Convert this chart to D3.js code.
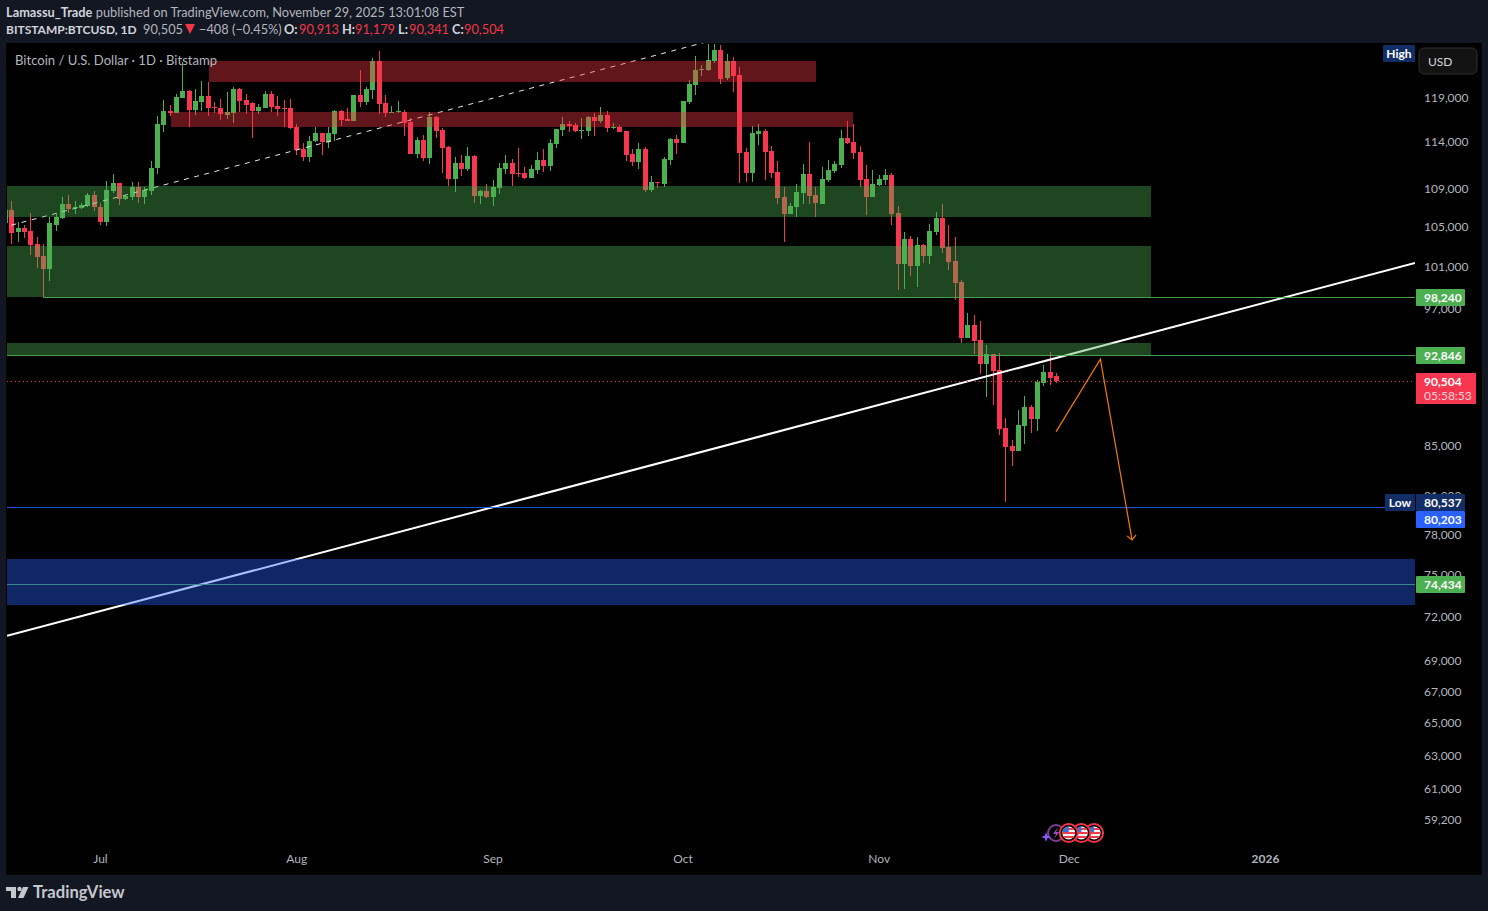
<!DOCTYPE html>
<html>
<head>
<meta charset="utf-8">
<script src="https://cdnjs.cloudflare.com/ajax/libs/d3/7.8.5/d3.min.js"></script>
<style>
  body { margin: 0; background: #131722; }
  svg { display: block; }
  text { font-family: "Lato", sans-serif; }
  .tick text { font-family: "Lato", sans-serif; }
</style>
</head>
<body>
<div id="chart"></div>
<script>
// daily candles, each row is open, high, low, close
var firstDay = "2025-06-16";
var candlesJun = [
  [105460,106790,105460,106790],[106790,107730,103340,104450],[104550,105560,103540,104950],
  [104950,105260,103940,104550],[104650,106480,102250,103240],[103340,104040,100970,102050],
  [102150,103340,98190,100870],[100870,106070,99710,105460],[105260,106380,104650,106070],
  [105970,108150,105870,107420],[107420,108360,106480,106900],[107000,107730,106380,107110],
  [107000,107520,106900,107320],[107210,108570,107110,108360],[108360,108780,106690,107110]
];
var candlesJul = [
  [107110,107520,105260,105560],[105560,109830,105150,108880],[108780,110580,108570,109620],
  [109620,109620,107320,107940],[107940,108360,107830,108250],[108150,109730,107830,109200],
  [109200,109730,107520,108150],[108150,109200,107420,108880],[108780,111980,108360,111220],
  [111220,116950,110580,116050],[115940,118770,115160,117520],[117520,118200,116950,117290],
  [117290,119460,117290,119120],[119000,123210,119000,119810],[119810,119930,115710,117630],
  [117630,120040,117060,118660],[118540,120970,117520,119230],[119230,120860,116950,117860],
  [117970,118540,117290,117860],[117860,118890,116500,117180],[117060,119700,116610,117400],
  [117290,120280,116160,120040],[120040,120160,117400,118660],[118770,119460,117180,118200],
  [118430,118540,114490,117520],[117520,118310,117180,117970],[117860,119810,117860,119460],
  [119460,119810,117400,117970],[118090,119230,116950,117750],[117860,118770,115710,117750],
  [117860,118890,115490,115600]
];
var candlesAug = [
  [115710,116050,112630,113170],[113280,113940,111980,112410],[112410,114710,111870,114160],
  [114160,115710,114050,115050],[115050,115050,112630,114050],[114050,115710,113390,115050],
  [114940,117630,114160,117520],[117520,117630,115830,116500],[116610,117860,116380,116380],
  [116380,119350,116380,119350],[119350,122270,117970,118540],[118540,120280,118200,120040],
  [119930,123690,118890,123330],[123330,124530,117180,118310],[118430,119350,116840,117290],
  [117290,118090,117290,117400],[117400,118660,117290,117520],[117400,117630,114710,116160],
  [116270,116720,112740,112740],[112740,114600,112300,114270],[114270,114820,111980,112300],
  [112300,117400,111650,116840],[116840,116950,114490,115270],[115380,115600,110680,113390],
  [113500,113610,109300,110040],[110040,112410,108680,111760],[111760,112630,110360,111110],
  [111110,113500,110900,112520],[112520,112630,107520,108250],[108250,108880,107420,108780],
  [108780,109510,108040,108150]
];
var candlesSep = [
  [108150,109940,107210,109200],[109090,111760,108460,111220],[111110,112630,110580,111760],
  [111760,112190,109300,110580],[110680,113390,110260,110580],[110680,111330,110040,110150],
  [110150,111540,110150,111110],[111010,112950,110580,112080],[112080,113280,110790,111440],
  [111440,114380,110900,113940],[113830,115490,113390,115490],[115380,116840,114710,116050],
  [116050,116380,115160,115830],[115940,116160,115160,115270],[115270,116720,114380,115380],
  [115270,116950,114710,116840],[116840,117290,114710,116380],[116380,117970,116160,117060],
  [117060,117520,115160,115600],[115600,116160,115490,115710],[115710,115940,115160,115160],
  [115270,115270,111980,112630],[112740,113280,111440,111870],[111870,113940,111110,113280],
  [113280,113500,108680,108880],[108880,110360,108680,109730],[109730,109730,109090,109620],
  [109510,112410,109200,112190],[112080,114490,111540,114380],[114380,114820,112740,113940]
];
var candlesOct = [
  [113940,118660,113940,118660],[118540,121100,118310,120630],[120510,123930,119350,122270],
  [122270,122850,121560,122380],[122270,125370,122150,123450],[123330,125370,123090,124650],
  [124650,125250,120630,121210],[121330,124170,121100,123330],[123330,123810,119700,121560],
  [121680,122620,109620,112840],[112950,113390,109730,110680],[110680,115830,109730,115050],
  [114940,116050,113720,115270],[115270,115490,109940,112950],[113060,113610,110150,110680],
  [110790,111980,107420,108040],[108150,109200,103540,106380],[106380,107520,106380,107210],
  [107110,109510,106070,108680],[108570,111650,107420,110580],[110580,114050,107420,108250],
  [108360,109200,106070,107520],[107420,111330,107420,110040],[109940,112080,109730,111010],
  [110900,111980,110680,111650],[111540,115380,111220,114490],[114490,116380,113830,113940],
  [114050,116050,112190,112840],[112950,113610,109200,109940],[110040,111540,106280,108150],
  [108150,111010,108150,109510]
];
var candlesNov = [
  [109410,110470,109300,110040],[109940,111110,109410,110470],[110470,110680,105260,106380],
  [106480,107210,98850,101360],[101360,104550,98950,103840],[103840,104140,100190,101170],
  [101170,104040,99140,103240],[103240,103340,101460,102150],[102150,105360,101360,104650],
  [104550,106590,104240,105970],[105970,107420,102450,102940],[103040,105260,100780,101560],
  [101660,104040,97900,99520],[99620,99810,93920,94370],[94370,96680,94370,95560],
  [95560,96490,92920,94100],[94190,95930,91140,92030],[92030,93730,89140,92920],
  [92920,92920,88450,91400],[91490,93010,85930,86430],[86510,87350,80537,84930],
  [85010,85510,83390,84610],[84610,88030,84610,86760],[86680,89220,85180,88280],
  [88280,88450,86090,87270],[87270,90620,86260,90440],[90360,91940,90090,91320],
  [91320,93100,90180,90790],[90913,91179,90341,90504]
];

// price axis and time axis labels
var priceTicks = [119000,114000,109000,105000,101000,97000,85000,81000,78000,75000,72000,69000,67000,65000,63000,61000,59200];
var monthTicks = ["2025-07-01","2025-08-01","2025-09-01","2025-10-01","2025-11-01","2025-12-01","2026-01-01"];
var monthLabels = ["Jul","Aug","Sep","Oct","Nov","Dec","2026"];

// drawings on the chart: [from date, to date, top price, bottom price]
var greenZones = [
  ["2025-06-01","2025-12-14",109300,106100],
  ["2025-06-01","2025-12-14",103140,98240],
  ["2025-06-01","2025-12-14",93920,92846]
];
var redZones = [
  ["2025-07-18T06:00Z","2025-10-22T03:00Z",123330,120890],
  ["2025-07-12T05:00Z","2025-10-28",117400,115830]
];
var blueZones = [["2025-06-01","2026-03-01",76200,72900]];

var greenLines = [["2025-06-22",98240],["2025-06-01",92846],["2025-06-01",74434]];
var lowLine = 80203;
var lastPrice = 90504;
var lowPrice = 80537;

var trendLine = [["2025-06-16T07:30Z",70740],["2026-01-24T17:00Z",101460]];
var dashLine = [["2025-06-17",105230],["2025-10-06",125880]];
var forecastLine = [["2025-11-29",86190],["2025-12-06",92440],["2025-12-11",77620]];
var eventDays = ["2025-12-01","2025-12-03","2025-12-05"];

var svgWidth = 1488;
var svgHeight = 911;
var plot = {left: 7, right: 1415, top: 43, bottom: 875};

var colorUp = "#4caf50";
var colorDown = "#f7374f";
var textGrey = "#b2b5be";

var parseDay = function(s) { return new Date(s.length > 10 ? s : s + "T00:00Z"); };

var candles = candlesJun.concat(candlesJul, candlesAug, candlesSep, candlesOct, candlesNov)
  .map(function(c, i) {
    return {
      date: d3.utcDay.offset(parseDay(firstDay), i),
      open: c[0], high: c[1], low: c[2], close: c[3]
    };
  });

var x = d3.scaleUtc()
  .domain([parseDay("2025-07-01"), parseDay("2026-01-01")])
  .range([100, 1265]);

var y = d3.scaleLog()
  .domain([59200, 119000])
  .range([820, 98]);

// pixel row of a horizontal level line
var levelY = function(price) { return Math.round(y(price) + 0.7) + 0.5; };

var svg = d3.select("#chart")
  .append("svg")
  .attr("width", svgWidth)
  .attr("height", svgHeight);

// black chart panel on the dark frame
svg.append("rect")
  .attr("x", 6).attr("y", 43)
  .attr("width", 1476).attr("height", 832)
  .attr("fill", "#000");

var defs = svg.append("defs");
defs.append("clipPath").attr("id", "plotClip")
  .append("rect")
  .attr("x", plot.left).attr("y", plot.top)
  .attr("width", plot.right - plot.left)
  .attr("height", plot.bottom - plot.top);

var plotGroup = svg.append("g").attr("clip-path", "url(#plotClip)");

// candles
var candleGroup = plotGroup.append("g");
var candleColor = function(d) { return d.close >= d.open ? colorUp : colorDown; };

candleGroup.selectAll("rect.wick")
  .data(candles)
  .enter()
  .append("rect")
  .attr("class", "wick")
  .attr("x", d => Math.round(x(d.date)))
  .attr("y", d => Math.round(y(d.high)))
  .attr("width", 1)
  .attr("height", d => Math.max(1, Math.round(y(d.low)) - Math.round(y(d.high))))
  .attr("fill", candleColor);

candleGroup.selectAll("rect.body")
  .data(candles)
  .enter()
  .append("rect")
  .attr("class", "body")
  .attr("x", d => Math.round(x(d.date)) - 2)
  .attr("y", d => Math.round(y(Math.max(d.open, d.close))))
  .attr("width", 5)
  .attr("height", d => Math.max(1, Math.round(y(Math.min(d.open, d.close))) - Math.round(y(Math.max(d.open, d.close)))))
  .attr("fill", candleColor);

// trend lines go under the zones, the zones tint them
var lineGen = d3.line()
  .x(d => x(parseDay(d[0])))
  .y(d => y(d[1]));

plotGroup.append("path")
  .attr("d", lineGen(dashLine))
  .attr("fill", "none")
  .attr("stroke", "#e8e8e8")
  .attr("stroke-width", 1)
  .attr("stroke-dasharray", "5,5.5");

plotGroup.append("path")
  .attr("d", lineGen(trendLine))
  .attr("fill", "none")
  .attr("stroke", "#fff")
  .attr("stroke-width", 2);

function drawZones(rows, fill) {
  plotGroup.append("g")
    .selectAll("rect")
    .data(rows)
    .enter()
    .append("rect")
    .attr("x", d => Math.round(x(parseDay(d[0]))))
    .attr("y", d => Math.round(y(d[2])))
    .attr("width", d => Math.round(x(parseDay(d[1]))) - Math.round(x(parseDay(d[0]))))
    .attr("height", d => Math.round(y(d[3]) + 0.7) - Math.round(y(d[2])))
    .attr("fill", fill);
}
drawZones(greenZones, "rgba(76,175,80,0.4)");
drawZones(redZones, "rgba(242,54,69,0.4)");

// horizontal levels
plotGroup.append("g")
  .selectAll("line")
  .data(greenLines)
  .enter()
  .append("line")
  .attr("x1", d => x(parseDay(d[0])))
  .attr("x2", plot.right)
  .attr("y1", d => levelY(d[1]))
  .attr("y2", d => levelY(d[1]))
  .attr("stroke", colorUp)
  .attr("stroke-opacity", 0.9)
  .attr("stroke-width", 1);

// the blue zone sits over the 74,434 level, which turns it teal
drawZones(blueZones, "rgba(41,98,255,0.4)");

plotGroup.append("line")
  .attr("x1", plot.left).attr("x2", plot.right)
  .attr("y1", levelY(lowLine))
  .attr("y2", levelY(lowLine))
  .attr("stroke", "#2962ff")
  .attr("stroke-opacity", 0.85);

plotGroup.append("line")
  .attr("x1", plot.left).attr("x2", plot.right)
  .attr("y1", Math.round(y(lastPrice)) + 0.5)
  .attr("y2", Math.round(y(lastPrice)) + 0.5)
  .attr("stroke", colorDown)
  .attr("stroke-dasharray", "1,3");

// orange forecast with arrow head
plotGroup.append("path")
  .attr("d", lineGen(forecastLine))
  .attr("fill", "none")
  .attr("stroke", "#f57c00")
  .attr("stroke-width", 1.2);

var tip = forecastLine[2];
var tipX = x(parseDay(tip[0]));
var tipY = y(tip[1]);
plotGroup.append("path")
  .attr("d", `M${tipX - 5},${tipY - 4}L${tipX},${tipY}L${tipX + 4},${tipY - 5}`)
  .attr("fill", "none")
  .attr("stroke", "#f57c00")
  .attr("stroke-width", 1.2);

// price axis
var yAxis = d3.axisRight(y)
  .tickValues(priceTicks)
  .tickFormat(d3.format(","))
  .tickSize(0)
  .tickPadding(0);

var yAxisGroup = svg.append("g")
  .attr("transform", "translate(1424,-0.5)")
  .call(yAxis);
yAxisGroup.select(".domain").remove();
yAxisGroup.selectAll("text")
  .attr("fill", textGrey)
  .attr("font-size", 12);

// time axis
var xAxis = d3.axisBottom(x)
  .tickValues(monthTicks.map(parseDay))
  .tickFormat((d, i) => monthLabels[i])
  .tickSize(0)
  .tickPadding(0);

var xAxisGroup = svg.append("g")
  .attr("transform", "translate(0,854)")
  .call(xAxis);
xAxisGroup.select(".domain").remove();
xAxisGroup.selectAll("text")
  .attr("fill", textGrey)
  .attr("font-size", 12)
  .attr("font-weight", (d, i) => monthLabels[i] === "2026" ? 700 : 400);

// price labels on the scale
function priceTag(boxY, label, fill) {
  svg.append("rect")
    .attr("x", 1416).attr("y", boxY)
    .attr("width", 49).attr("height", 17)
    .attr("rx", 1)
    .attr("fill", fill);
  svg.append("text")
    .attr("x", 1424).attr("y", boxY + 13)
    .attr("font-size", 12)
    .attr("font-weight", 700)
    .attr("fill", "#fff")
    .text(label);
}
var fmt = d3.format(",");
greenLines.forEach(function(d) {
  priceTag(levelY(d[1]) - 8.5, fmt(d[1]), colorUp);
});
var lowTagY = Math.round(y(lowPrice)) - 8;
priceTag(lowTagY, fmt(lowPrice), "#132d66");
priceTag(lowTagY + 17, fmt(lowLine), "#2962ff");

// last price tag with countdown
var lastTagY = Math.round(y(lastPrice)) - 8;
svg.append("rect")
  .attr("x", 1416).attr("y", lastTagY)
  .attr("width", 60).attr("height", 31)
  .attr("rx", 1)
  .attr("fill", colorDown);
svg.append("text")
  .attr("x", 1424).attr("y", lastTagY + 13)
  .attr("font-size", 12)
  .attr("font-weight", 700)
  .attr("fill", "#fff")
  .text(fmt(lastPrice));
svg.append("text")
  .attr("x", 1424).attr("y", lastTagY + 27)
  .attr("font-size", 12)
  .attr("fill", "#ffd4d8")
  .text("05:58:53");

// High and Low flags
function sideFlag(boxX, boxY, w, label) {
  svg.append("rect")
    .attr("x", boxX).attr("y", boxY)
    .attr("width", w).attr("height", 17)
    .attr("rx", 1)
    .attr("fill", "#132d66");
  svg.append("text")
    .attr("x", boxX + w / 2).attr("y", boxY + 13)
    .attr("text-anchor", "middle")
    .attr("font-size", 12)
    .attr("font-weight", 700)
    .attr("fill", "#fff")
    .text(label);
}
sideFlag(1383, 45, 32, "High");
sideFlag(1385, lowTagY, 30, "Low");

// currency button
svg.append("rect")
  .attr("x", 1419).attr("y", 48)
  .attr("width", 58).attr("height", 26)
  .attr("rx", 5)
  .attr("fill", "#131313")
  .attr("stroke", "#2e2e2e");
svg.append("text")
  .attr("x", 1428).attr("y", 66)
  .attr("font-size", 12)
  .attr("fill", "#d1d4dc")
  .text("USD");

// legend inside the chart
svg.append("text")
  .attr("x", 15).attr("y", 65)
  .attr("font-size", 13.1)
  .attr("fill", textGrey)
  .text("Bitcoin / U.S. Dollar · 1D · Bitstamp");

// header lines
var head1 = svg.append("text").attr("x", 6).attr("y", 17).attr("font-size", 12.8).attr("fill", textGrey);
head1.append("tspan").attr("font-weight", 700).attr("fill", "#d1d4dc").text("Lamassu_Trade");
head1.append("tspan").text(" published on TradingView.com, November 29, 2025 13:01:08 EST");

function headText(xPos, label, fill, weight, size) {
  svg.append("text")
    .attr("x", xPos).attr("y", 34)
    .attr("font-size", size || 12.8)
    .attr("font-weight", weight || 400)
    .attr("fill", fill)
    .text(label);
}
headText(6, "BITSTAMP:BTCUSD, 1D", "#d1d4dc", 700, 12);
headText(143, "90,505", textGrey);
svg.append("path").attr("d", "M185,24h10l-5,10z").attr("fill", "#f23645");
headText(199, "−408 (−0.45%)", textGrey);
headText(284, "O:", "#d1d4dc", 700);
headText(299, "90,913", "#f23645");
headText(342, "H:", "#d1d4dc", 700);
headText(355, "91,179", "#f23645");
headText(398, "L:", "#d1d4dc", 700);
headText(409, "90,341", "#f23645");
headText(452, "C:", "#d1d4dc", 700);
headText(464, "90,504", "#f23645");

// event icons on the time axis
var iconY = 833;
var iconGroup = svg.append("g");
var ringX = x(parseDay("2025-11-29"));
iconGroup.append("circle")
  .attr("cx", ringX).attr("cy", iconY).attr("r", 8)
  .attr("fill", "none")
  .attr("stroke", "#7d3c98")
  .attr("stroke-width", 2);
iconGroup.append("path")
  .attr("transform", `translate(${ringX},${iconY})`)
  .attr("d", "M2,-6L-3,1H0L-2,6L3,-1H0Z")
  .attr("fill", "#9c4fd0");
iconGroup.append("path")
  .attr("transform", `translate(${ringX - 10},${iconY + 4})`)
  .attr("d", "M0,-5L1.3,-1.3L5,0L1.3,1.3L0,5L-1.3,1.3L-5,0L-1.3,-1.3Z")
  .attr("fill", "#8a5cff");

var flagDays = eventDays.slice().reverse();
flagDays.forEach(function(day, i) {
  var g = iconGroup.append("g").attr("transform", `translate(${x(parseDay(day))},${iconY})`);
  defs.append("clipPath").attr("id", "flag" + i).append("circle").attr("r", 6.5);
  g.append("circle").attr("r", 9).attr("fill", "#000").attr("stroke", "#f23645").attr("stroke-width", 2);
  var flag = g.append("g").attr("clip-path", `url(#flag${i})`);
  flag.append("rect").attr("x", -7).attr("y", -7).attr("width", 14).attr("height", 14).attr("fill", "#f4f4f4");
  [-5, -1, 3].forEach(function(sy) {
    flag.append("rect").attr("x", -7).attr("y", sy).attr("width", 14).attr("height", 2).attr("fill", "#ea3f4b");
  });
  flag.append("rect").attr("x", -7).attr("y", -7).attr("width", 7).attr("height", 6).attr("fill", "#3a6fd8");
});

// TradingView logo
var logo = svg.append("g").attr("fill", "#c4c7ce");
logo.append("path").attr("d", "M6,887h10v11h-5v-7h-5z");
logo.append("circle").attr("cx", 19.5).attr("cy", 889).attr("r", 2.2);
logo.append("path").attr("d", "M23,887h5.5l-5,11h-5.5z");
svg.append("text")
  .attr("x", 33).attr("y", 898)
  .attr("font-size", 16.6)
  .attr("font-weight", 700)
  .attr("fill", "#c4c7ce")
  .text("TradingView");
</script>
</body>
</html>
